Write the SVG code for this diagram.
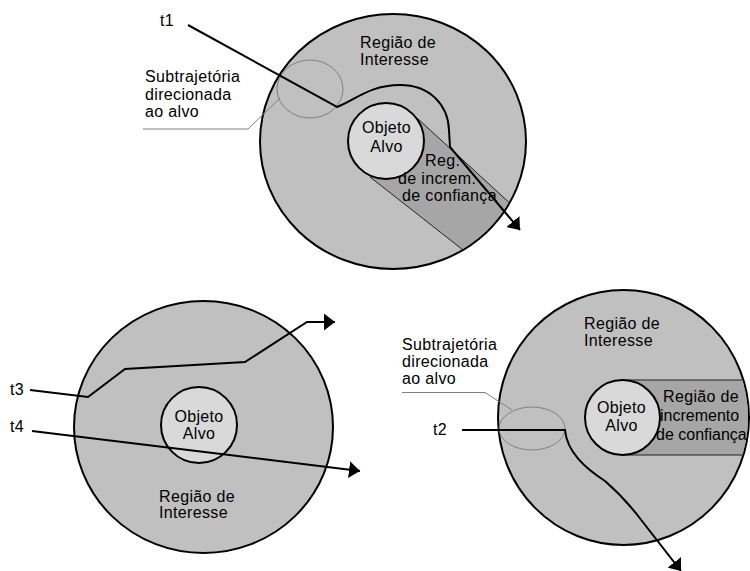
<svg xmlns="http://www.w3.org/2000/svg" width="750" height="571" viewBox="0 0 750 571">
<style>
text{font-family:"Liberation Sans",Arial,sans-serif;font-size:16px;fill:#000;letter-spacing:0.35px}
.mid{text-anchor:middle}
.tight{letter-spacing:0}
.roi{fill:#c0c0c0;stroke:#000;stroke-width:2}
.obj{fill:#d9d9d9;stroke:#000;stroke-width:2}
.band{fill:#a6a6a6;stroke:none}
.bandedge{stroke:#222;stroke-width:1;fill:none}
.sub{fill:none;stroke:#808080;stroke-width:1}
.lead{fill:none;stroke:#808080;stroke-width:1}
.traj{fill:none;stroke:#000;stroke-width:2;marker-end:url(#ah)}
</style>
<defs>
<marker id="ah" markerUnits="userSpaceOnUse" markerWidth="12" markerHeight="17" refX="11" refY="8.5" orient="auto" viewBox="0 0 12 17">
<path d="M0,0 L11,8.5 L0,17 z" fill="#000"/>
</marker>
<clipPath id="clipTop"><ellipse cx="393" cy="141.5" rx="132" ry="126.5"/></clipPath>
<clipPath id="clipBR"><ellipse cx="623.5" cy="417.5" rx="124.5" ry="126.5"/></clipPath>
</defs>
<rect width="750" height="571" fill="#fff"/>

<g id="top-diagram">
<ellipse class="roi" cx="393" cy="141.5" rx="133" ry="127.5"/>
<g clip-path="url(#clipTop)">
<polygon class="band" points="417,118 550,240 495,275 370,177 386,141"/>
<line class="bandedge" x1="417" y1="118" x2="550" y2="240"/>
<line class="bandedge" x1="370" y1="177" x2="495" y2="275"/>
</g>
<circle class="obj" cx="386" cy="141" r="38"/>
<ellipse class="sub" cx="310" cy="89" rx="33" ry="29"/>
<text x="360" y="48">Região de</text>
<text x="360" y="65">Interesse</text>
<text class="mid" x="386.5" y="133">Objeto</text>
<text class="mid" x="386.5" y="152">Alvo</text>
<text x="425" y="166">Reg.</text>
<text x="398" y="184">de increm.</text>
<text x="402" y="201">de confiança</text>
<text x="145" y="82">Subtrajetória</text>
<text x="145" y="99.5">direcionada</text>
<text x="145" y="117">ao alvo</text>
<text x="160" y="26">t1</text>
</g>

<g id="bottom-left-diagram">
<ellipse class="roi" cx="203.5" cy="427" rx="129.5" ry="126"/>
<circle class="obj" cx="199" cy="425" r="38"/>
<text class="mid" x="199" y="422">Objeto</text>
<text class="mid" x="199" y="439">Alvo</text>
<text x="159" y="502">Região de</text>
<text x="159" y="518">Interesse</text>
<text x="10" y="395">t3</text>
<text x="10" y="432">t4</text>
</g>

<g id="bottom-right-diagram">
<ellipse class="roi" cx="623.5" cy="417.5" rx="125.5" ry="127.5"/>
<g clip-path="url(#clipBR)">
<rect class="band" x="622" y="380" width="140" height="75"/>
<line class="bandedge" x1="622" y1="380" x2="760" y2="380"/>
<line class="bandedge" x1="622" y1="455" x2="760" y2="455"/>
</g>
<circle class="obj" cx="622.5" cy="417.5" r="37.5"/>
<ellipse class="sub" cx="532" cy="428.5" rx="33" ry="21.5"/>
<text x="584" y="329">Região de</text>
<text x="584" y="346">Interesse</text>
<text class="mid" x="621.5" y="413">Objeto</text>
<text class="mid" x="621.5" y="431">Alvo</text>
<text x="663" y="402">Região de</text>
<text class="tight" x="660" y="421">incremento</text>
<text class="tight" x="656" y="440">de confiança</text>
<text x="402" y="350">Subtrajetória</text>
<text x="402" y="367">direcionada</text>
<text x="402" y="384">ao alvo</text>
<text x="433" y="435">t2</text>
</g>

<g id="connectors">
<path class="lead" d="M143,129 L248,129 L280,98"/>
<path class="lead" d="M402,392.5 L485,392.5 L512,410"/>
<path class="traj" d="M188,25 L337,107 C355,100 370,85 400,85 C430,85 448,105 449,130 L450,147 L520,230"/>
<path class="traj" d="M30,390 L88,397 L125,369 L245,362 L307,322 L335,322"/>
<path class="traj" d="M32,431 L360,471"/>
<path class="traj" d="M462,430 L565,430 C567,452 585,468 605,481 C620,494 630,505 642,521 L681,571"/>
</g>
</svg>
